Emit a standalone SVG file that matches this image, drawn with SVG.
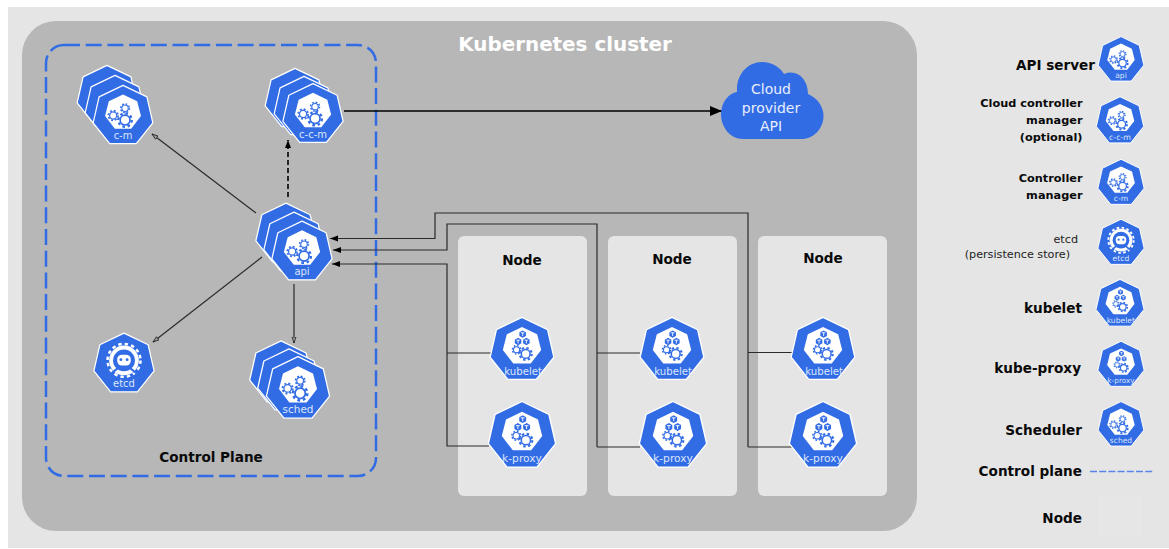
<svg xmlns="http://www.w3.org/2000/svg" xmlns:xlink="http://www.w3.org/1999/xlink" width="1169" height="549" viewBox="0 0 1169 549">
<style>
text{font-family:"DejaVu Sans","Liberation Sans",sans-serif}
.b{font-weight:bold;fill:#0a0a0a}
.leg{font-size:13.6px;text-anchor:end}
.sm{font-size:11.3px;text-anchor:end}
.reg{font-size:11.2px;text-anchor:end;fill:#222}
.lbl{font-size:9.7px;fill:#dbe6fb;text-anchor:middle}
.lbs{font-size:9.3px;fill:#dbe6fb;text-anchor:middle}
.cloud{font-size:14px;fill:#e8eefc;text-anchor:middle}
.shell{fill:#326ce5;stroke:#fff;stroke-width:1.2;stroke-linejoin:round}
.panel{fill:#e5e5e5}
.ln{fill:none;stroke:#2a2a2a;stroke-width:1.2}
</style>
<defs>
<marker id="solid" markerUnits="userSpaceOnUse" markerWidth="14" markerHeight="12" refX="12" refY="5" orient="auto"><path d="M0,0L12,5L0,10Z" fill="#000"/></marker>
<marker id="small" markerUnits="userSpaceOnUse" markerWidth="10" markerHeight="10" refX="8" refY="3" orient="auto"><path d="M0,0L8,3L0,6Z" fill="#000"/></marker>
<marker id="open" markerUnits="userSpaceOnUse" markerWidth="10" markerHeight="10" refX="6.5" refY="2.5" orient="auto"><path d="M0.5,0.5L6.5,2.5L0.5,4.5Z" fill="#999" stroke="#222" stroke-width="0.8"/></marker>
<polygon id="shell" class="shell" points="0,-30 23.45,-18.7 29.25,6.68 13.02,27.03 -13.02,27.03 -29.25,6.68 -23.45,-18.7"/>
<polygon id="inner" fill="#fff" points="0,-21 13.9,-14.4 17.6,0 8,12.4 -8,12.4 -17.6,0 -13.9,-14.4"/>
<g id="gear" fill="none" stroke="#326ce5">
<circle r="5.6" stroke-width="1.9"/>
<circle r="7.7" stroke-width="2.6" stroke-dasharray="3 3.05"/>
</g>
<g id="gears">
<use href="#inner"/>
<use href="#gear" transform="translate(2,4) scale(.86)"/>
<use href="#gear" transform="translate(-9.6,-.5) scale(.62)"/>
<use href="#gear" transform="translate(2,-7.6) scale(.56)"/>
</g>
<g id="cube">
<polygon fill="#326ce5" points="0,-3.4 3,-1.7 3,1.7 0,3.4 -3,1.7 -3,-1.7"/>
<path d="M-1.6,-1.2H1.6M0,-1.2V1.8" fill="none" stroke="#fff" stroke-width=".8"/>
</g>
<g id="cubes">
<use href="#inner"/>
<use href="#cube" transform="translate(.6,-14.6)"/>
<use href="#cube" transform="translate(-3.6,-7.8)"/>
<use href="#cube" transform="translate(4,-7.8)"/>
<use href="#gear" transform="translate(-5,-.2) scale(.5)"/>
<use href="#gear" transform="translate(3.4,3.6) scale(.72)"/>
</g>
<g id="etcdg">
<circle cy="-3.5" r="14.4" fill="#fff"/>
<circle cy="-3.5" r="16" fill="none" stroke="#fff" stroke-width="2.4" stroke-dasharray="3.3 3"/>
<circle cy="-3.5" r="10.6" fill="#326ce5"/>
<rect x="-6.6" y="-9" width="13.2" height="10.5" rx="4.6" fill="#fff"/>
<circle cx="-3" cy="-4.2" r="1.4" fill="#326ce5"/>
<circle cx="3" cy="-4.2" r="1.4" fill="#326ce5"/>
<path d="M-12,9L-6,4M12,9L6,4" stroke="#326ce5" stroke-width="2"/>
</g>
</defs>

<rect x="0" y="0" width="1169" height="549" fill="#fff"/>
<rect x="8" y="7" width="1161" height="541" fill="#e5e5e5"/>

<g id="cluster">
<rect x="22" y="21" width="895" height="510" rx="34" fill="#b7b7b7"/>
<text x="565" y="51" class="b" font-size="19.9" text-anchor="middle" style="fill:#fff">Kubernetes cluster</text>
</g>

<g id="control-plane">
<rect x="46" y="45" width="330" height="431" rx="18" fill="none" stroke="#326ce5" stroke-width="2.5" stroke-dasharray="16 5.7"/>
<text x="211" y="462" class="b" font-size="13.6" text-anchor="middle">Control Plane</text>
</g>

<g id="node-panel-1"><rect class="panel" x="458" y="236" width="129" height="260" rx="6"/><text x="522" y="265" class="b" font-size="13.6" text-anchor="middle">Node</text></g>
<g id="node-panel-2"><rect class="panel" x="608" y="236" width="129" height="260" rx="6"/><text x="672" y="264" class="b" font-size="13.6" text-anchor="middle">Node</text></g>
<g id="node-panel-3"><rect class="panel" x="758" y="236" width="129" height="260" rx="6"/><text x="823" y="263" class="b" font-size="13.6" text-anchor="middle">Node</text></g>

<g id="connectors">
<path d="M344,111H722" fill="none" stroke="#000" stroke-width="1.5" marker-end="url(#solid)"/>
<path d="M256,213L152,134" class="ln" marker-end="url(#open)"/>
<path d="M288,197V140" fill="none" stroke="#000" stroke-width="1.6" stroke-dasharray="5 3" marker-end="url(#small)"/>
<path d="M262,257L153,342" class="ln" marker-end="url(#open)"/>
<path d="M294,284V343" class="ln" marker-end="url(#open)"/>
<path d="M748,447V213H435V238.5H330" class="ln" marker-end="url(#small)"/>
<path d="M794,447H748M793,352.5H748" class="ln"/>
<path d="M597,447V224H447V250H333" class="ln" marker-end="url(#small)"/>
<path d="M640,447H597M640,353H597" class="ln"/>
<path d="M489,446H447V264H332" class="ln" marker-end="url(#small)"/>
<path d="M491,353H447" class="ln"/>
</g>

<g id="c-m">
<use href="#shell" transform="translate(107,96) scale(1.02)"/>
<use href="#shell" transform="translate(115,106) scale(1.02)"/>
<g transform="translate(123,116) scale(1.02)"><use href="#shell"/><use href="#gears"/><text class="lbl" y="22.5">c-m</text></g>
</g>
<g id="c-c-m">
<use href="#shell" transform="translate(295,99) scale(1.02)"/>
<use href="#shell" transform="translate(304,107) scale(1.02)"/>
<g transform="translate(313,114.5) scale(1.03)"><use href="#shell"/><use href="#gears"/><text class="lbl" y="22.5">c-c-m</text></g>
</g>
<g id="api">
<use href="#shell" transform="translate(286,234) scale(1.03)"/>
<use href="#shell" transform="translate(294,243) scale(1.03)"/>
<g transform="translate(302,252) scale(1.03)"><use href="#shell"/><use href="#gears"/><text class="lbl" y="22.5">api</text></g>
</g>
<g id="etcd">
<g transform="translate(124,364) scale(1.03)"><use href="#shell"/><use href="#etcdg"/><text class="lbl" y="22">etcd</text></g>
</g>
<g id="sched">
<use href="#shell" transform="translate(281,373) scale(1.07)"/>
<use href="#shell" transform="translate(289,381) scale(1.07)"/>
<g transform="translate(298,389) scale(1.08)"><use href="#shell"/><use href="#gears"/><text class="lbl" y="22.5">sched</text></g>
</g>

<g id="kubelet-1" transform="translate(522,350) scale(1.09)"><use href="#shell"/><use href="#cubes"/><text class="lbs" x="1" y="22.8">kubelet</text></g>
<g id="k-proxy-1" transform="translate(522,436) scale(1.15)"><use href="#shell"/><use href="#cubes"/><text class="lbs" x="0" y="22.6">k-proxy</text></g>
<g id="kubelet-2" transform="translate(672,350) scale(1.09)"><use href="#shell"/><use href="#cubes"/><text class="lbs" x="1" y="22.8">kubelet</text></g>
<g id="k-proxy-2" transform="translate(673,436) scale(1.15)"><use href="#shell"/><use href="#cubes"/><text class="lbs" x="0" y="22.6">k-proxy</text></g>
<g id="kubelet-3" transform="translate(823,350) scale(1.09)"><use href="#shell"/><use href="#cubes"/><text class="lbs" x="1" y="22.8">kubelet</text></g>
<g id="k-proxy-3" transform="translate(823,436) scale(1.15)"><use href="#shell"/><use href="#cubes"/><text class="lbs" x="0" y="22.6">k-proxy</text></g>

<g id="cloud">
<path fill="#326ce5" d="M743,139C730,139 721,127 721,114C721,102 729,93 737,92C736,74 748,62 762,62C772,62 780,67 784,74C796,69 808,78 808,94C817,98 823.5,106 823.5,116C823.5,129 813,139 802,139Z"/>
<text class="cloud" x="771" y="93.5">Cloud</text>
<text class="cloud" x="771" y="112.5">provider</text>
<text class="cloud" x="771" y="131">API</text>
</g>

<g id="legend-api"><text x="1095" y="70" class="b leg">API server</text><g transform="translate(1121,60) scale(.78)"><use href="#shell"/><use href="#gears"/><text class="lbl" y="23">api</text></g></g>
<g id="legend-c-c-m"><text x="1082.5" y="106.7" class="b sm">Cloud controller</text><text x="1082.5" y="123.7" class="b sm">manager</text><text x="1082.5" y="140.7" class="b sm">(optional)</text><g transform="translate(1120,121) scale(.81)"><use href="#shell"/><use href="#gears"/><text class="lbl" y="23">c-c-m</text></g></g>
<g id="legend-c-m"><text x="1082.5" y="181.7" class="b sm">Controller</text><text x="1082.5" y="199" class="b sm">manager</text><g transform="translate(1121,183) scale(.79)"><use href="#shell"/><use href="#gears"/><text class="lbl" y="23">c-m</text></g></g>
<g id="legend-etcd"><text x="1078" y="243" class="reg">etcd</text><text x="1070" y="258" class="reg">(persistence store)</text><g transform="translate(1121,243) scale(.79)"><use href="#shell"/><use href="#etcdg"/><text class="lbl" y="23">etcd</text></g></g>
<g id="legend-kubelet"><text x="1082" y="313" class="b leg">kubelet</text><g transform="translate(1120,304) scale(.82)"><use href="#shell"/><use href="#cubes"/><text class="lbs" x="1" y="23">kubelet</text></g></g>
<g id="legend-k-proxy"><text x="1081" y="372.7" class="b leg">kube-proxy</text><g transform="translate(1121,365) scale(.79)"><use href="#shell"/><use href="#cubes"/><text class="lbs" y="23">k-proxy</text></g></g>
<g id="legend-sched"><text x="1082" y="435" class="b leg">Scheduler</text><g transform="translate(1121,425) scale(.78)"><use href="#shell"/><use href="#gears"/><text class="lbl" y="23">sched</text></g></g>
<g id="legend-control-plane"><text x="1082" y="476" class="b leg">Control plane</text><path d="M1090,471.5H1154" fill="none" stroke="#5b84ea" stroke-width="1.5" stroke-dasharray="7 2.2"/></g>
<g id="legend-node"><text x="1082" y="523" class="b leg">Node</text><rect x="1097" y="493" width="46" height="46" rx="4" fill="#e6e6e6" stroke="#e1e1e1" stroke-width=".5"/></g>
</svg>
